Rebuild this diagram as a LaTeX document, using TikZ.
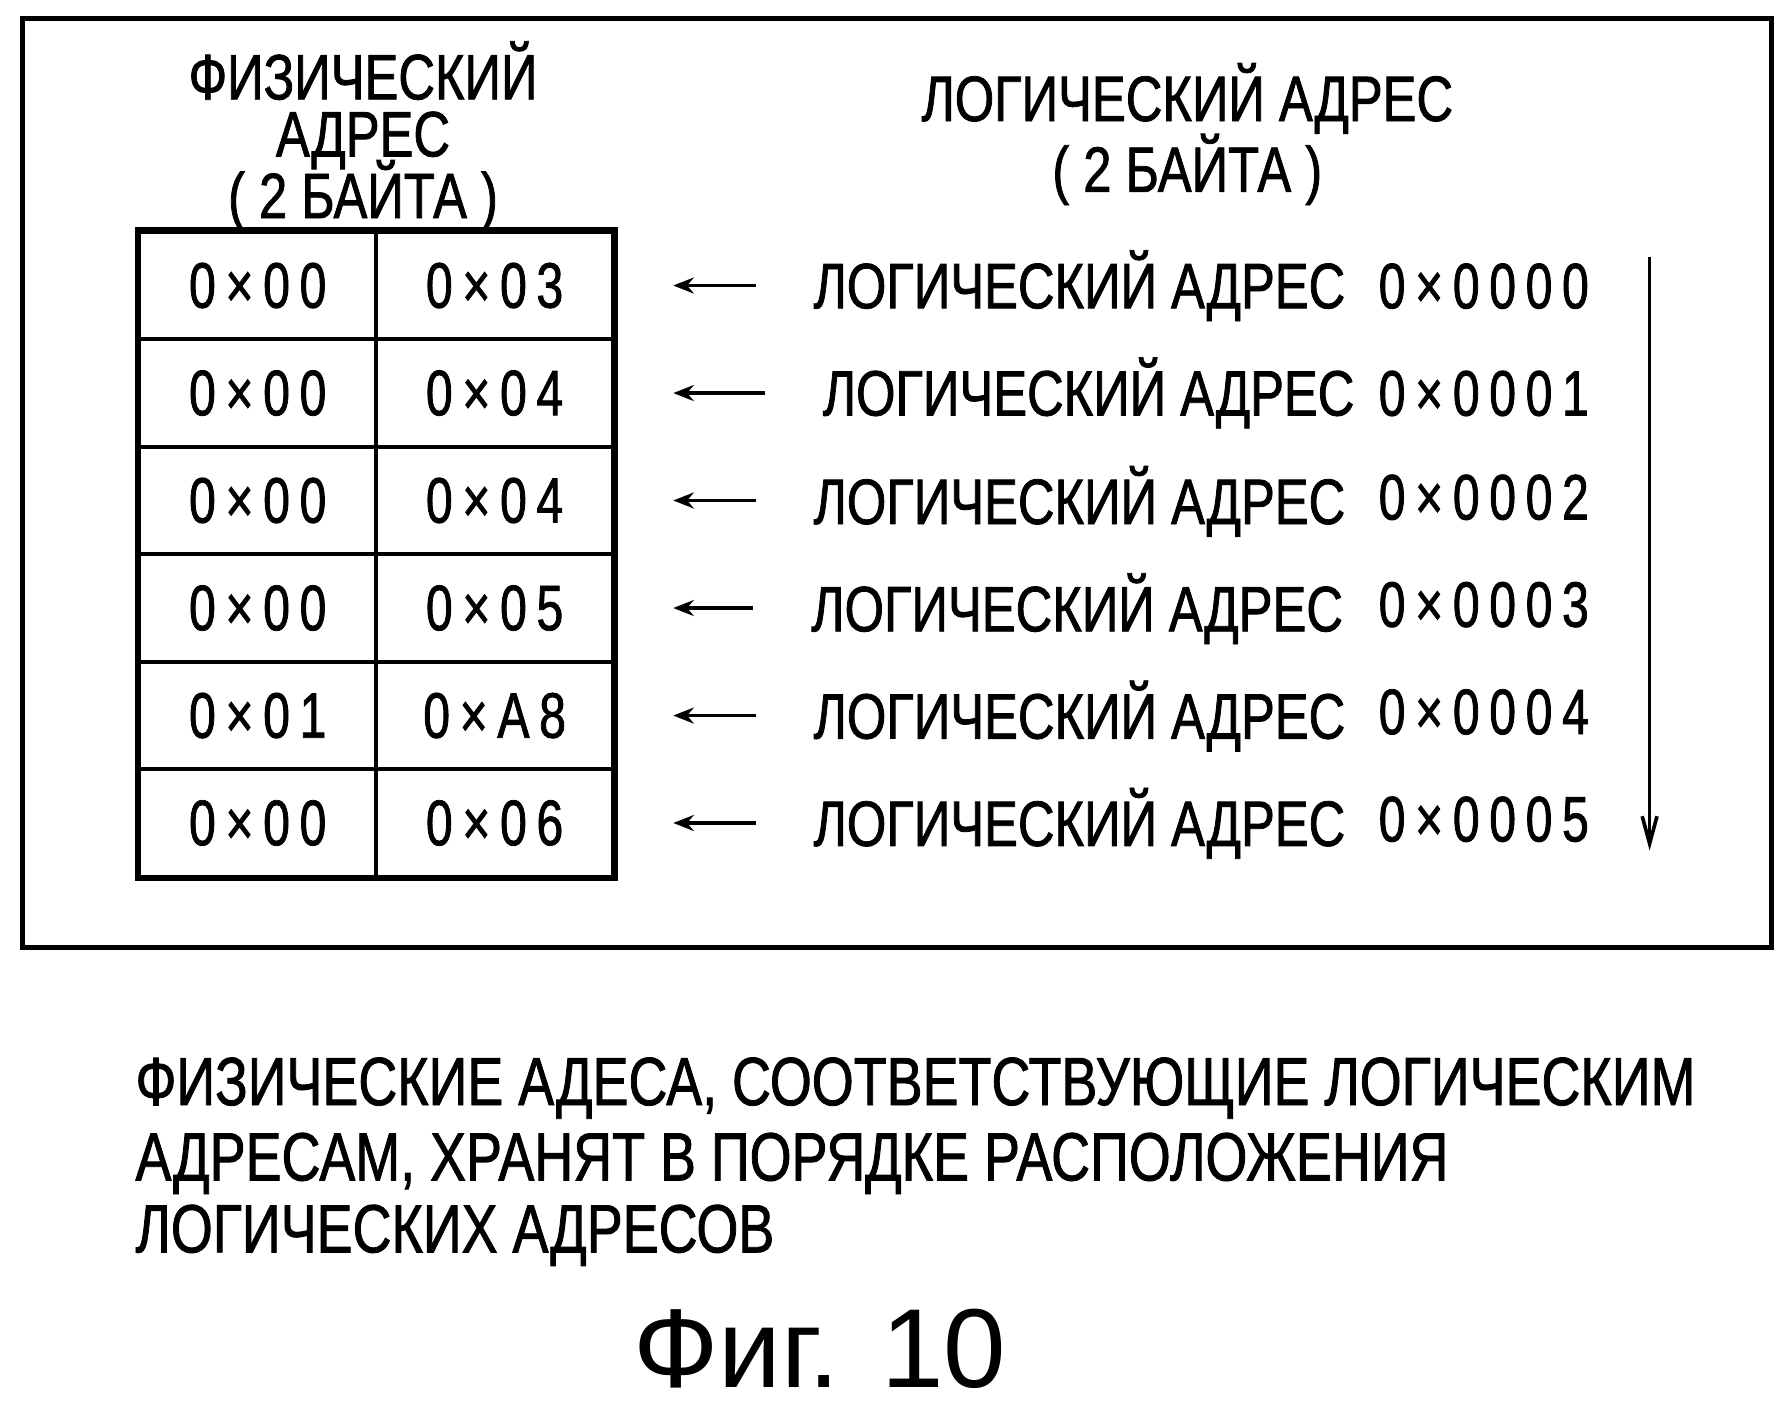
\documentclass[tikz,border=0pt]{standalone}
\usepackage{fontspec}
\setmainfont{Liberation Sans}
\newfontfamily\narrowfont[FakeStretch=0.79,FakeBold=1.2]{Liberation Sans}
\newfontfamily\hexfont[FakeStretch=0.75,LetterSpace=15,FakeBold=1.2]{Liberation Sans}
\usetikzlibrary{arrows.meta}

\begin{document}
\begin{tikzpicture}
% estilos separados
\tikzset{
  cell/.style={draw, line width=1pt, minimum width=2.075cm, minimum height=0.942cm, inner sep=0pt, font=\hexfont\fontsize{16}{16}\selectfont},
  lbl/.style={inner sep=0pt, anchor=base west, font=\narrowfont\fontsize{16}{16}\selectfont},
  hex/.style={inner sep=0pt, anchor=base west, font=\hexfont\fontsize{16}{16}\selectfont},
  head/.style={inner sep=0pt, anchor=base, font=\narrowfont\fontsize{16}{16}\selectfont},
  note/.style={inner sep=0pt, anchor=base west, font=\narrowfont\fontsize{17}{17}\selectfont},
  arr/.style={-{Stealth[length=1.8mm,width=1.4mm]}, line width=0.9pt, shorten <=0.50cm, shorten >=0.51cm},
  varr/.style={-{Straight Barb[length=2.4mm,width=1.3mm]}, line width=0.9pt}
}
\useasboundingbox (0,0) rectangle (15.68,-12.40);

% marco
\draw[line width=1.2pt] (0.20,-0.16) rectangle (15.52,-8.30);

\node[head] (hp1) at (3.18,-0.87) {ФИЗИЧЕСКИЙ};
\node[head] (hp2) at (3.18,-1.37) {АДРЕС};
\node[head] (hp3) at (3.18,-1.91) {( 2 БАЙТА )};
\node[head] (hl1) at (10.40,-1.06) {ЛОГИЧЕСКИЙ АДРЕС};
\node[head] (hl2) at (10.40,-1.68) {( 2 БАЙТА )};

% tabla
\node[cell] (a1) at (2.2575,-2.501) {0×00};
\node[cell] (b1) at (4.3325,-2.501) {0×03};
\node[cell] (a2) at (2.2575,-3.443) {0×00};
\node[cell] (b2) at (4.3325,-3.443) {0×04};
\node[cell] (a3) at (2.2575,-4.384) {0×00};
\node[cell] (b3) at (4.3325,-4.384) {0×04};
\node[cell] (a4) at (2.2575,-5.326) {0×00};
\node[cell] (b4) at (4.3325,-5.326) {0×05};
\node[cell] (a5) at (2.2575,-6.268) {0×01};
\node[cell] (b5) at (4.3325,-6.268) {0×A8};
\node[cell] (a6) at (2.2575,-7.209) {0×00};
\node[cell] (b6) at (4.3325,-7.209) {0×06};
\draw[line width=1.3pt] (a1.north west) rectangle (b6.south east);

\node[lbl] (l1) at (7.12,-2.70) {ЛОГИЧЕСКИЙ АДРЕС};
\node[lbl] (l2) at (7.20,-3.64) {ЛОГИЧЕСКИЙ АДРЕС};
\node[lbl] (l3) at (7.12,-4.59) {ЛОГИЧЕСКИЙ АДРЕС};
\node[lbl] (l4) at (7.10,-5.53) {ЛОГИЧЕСКИЙ АДРЕС};
\node[lbl] (l5) at (7.12,-6.47) {ЛОГИЧЕСКИЙ АДРЕС};
\node[lbl] (l6) at (7.12,-7.41) {ЛОГИЧЕСКИЙ АДРЕС};
\node[hex] (x1) at (12.07,-2.70) {0×0000};
\node[hex] (x2) at (12.07,-3.64) {0×0001};
\node[hex] (x3) at (12.07,-4.55) {0×0002};
\node[hex] (x4) at (12.07,-5.49) {0×0003};
\node[hex] (x5) at (12.07,-6.43) {0×0004};
\node[hex] (x6) at (12.07,-7.37) {0×0005};

\draw[arr] (l1.west |- b1.east) -- (b1.east);
\draw[arr] (l2.west |- b2.east) -- (b2.east);
\draw[arr] (l3.west |- b3.east) -- (b3.east);
\draw[arr] (l4.west |- b4.east) -- (b4.east);
\draw[arr] (l5.west |- b5.east) -- (b5.east);
\draw[arr] (l6.west |- b6.east) -- (b6.east);

\coordinate (vtop) at (14.45,-2.25);
\coordinate (vbot) at (14.45,-7.45);
\draw[varr] (vtop) -- (vbot);

% texto inferior
\node[note] (n1) at (1.18,-9.68) {ФИЗИЧЕСКИЕ АДЕСА, СООТВЕТСТВУЮЩИЕ ЛОГИЧЕСКИМ};
\node[note] (n2) at (1.18,-10.34) {АДРЕСАМ, ХРАНЯТ В ПОРЯДКЕ РАСПОЛОЖЕНИЯ};
\node[note] (n3) at (1.18,-10.97) {ЛОГИЧЕСКИХ АДРЕСОВ};

\node[inner sep=0pt, anchor=base, font=\fontsize{28}{28}\selectfont] (fig) at (7.18,-12.15) {Фиг. 10};
\end{tikzpicture}
\end{document}
